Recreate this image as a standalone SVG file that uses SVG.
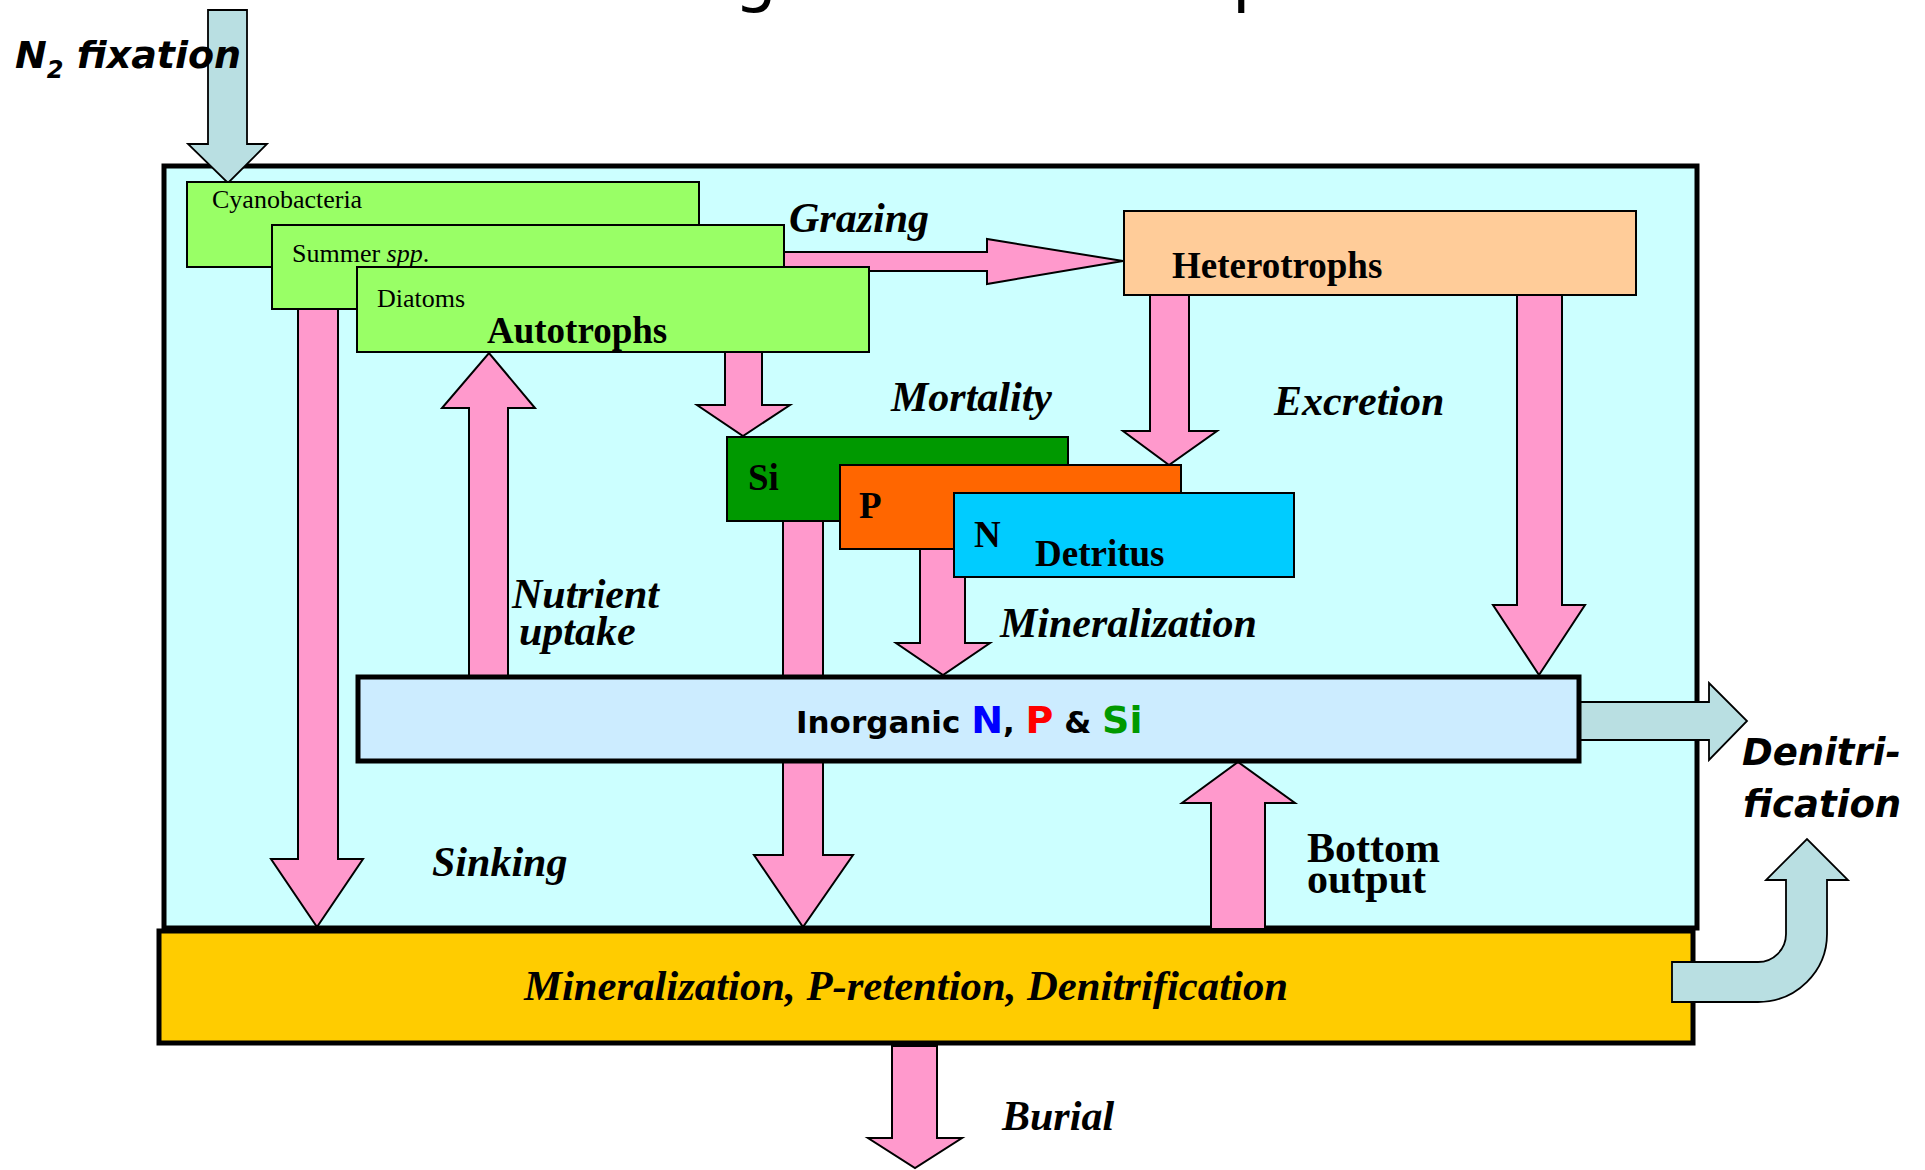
<svg xmlns="http://www.w3.org/2000/svg" width="1925" height="1170" viewBox="0 0 1925 1170">
<style>
.pink{fill:#FF99CC;stroke:#000;stroke-width:2;stroke-linejoin:miter}
.blue{fill:#B9DFE2;stroke:#000;stroke-width:1.8}
.box{stroke:#000;stroke-width:2}
.lbl{font-family:"Liberation Serif","Times New Roman",serif;font-weight:bold;font-style:italic;font-size:42px;fill:#000}
.nm{font-family:"Liberation Serif","Times New Roman",serif;font-weight:bold;font-size:37px;fill:#000}
.sm{font-family:"Liberation Serif","Times New Roman",serif;font-size:26px;fill:#000}
.cs{font-family:"DejaVu Sans","Noto Sans",sans-serif;font-weight:bold;fill:#000}
</style>
<rect width="1925" height="1170" fill="#fff"/>
<g id="title-fragment">
<text x="734" y="-1" style="font-family:'DejaVu Sans',sans-serif;font-size:68px">g</text>
<text x="1232" y="-1" style="font-family:'DejaVu Sans',sans-serif;font-size:68px">p</text>
</g>
<g id="water-column">
<rect x="164" y="166" width="1533" height="762" fill="#CCFFFF" stroke="#000" stroke-width="5"/>
</g>
<g id="sediment">
<rect x="159" y="931" width="1534" height="112" fill="#FFCC00" stroke="#000" stroke-width="5"/>
<text class="lbl" x="524" y="1000" textLength="764" lengthAdjust="spacingAndGlyphs" style="font-size:42px">Mineralization, P-retention, Denitrification</text>
</g>
<g id="connectors">
<polygon class="blue" points="208,10 247,10 247,144 267,144 228,183 188,144 208,144"/>
<polygon class="pink" points="760,252 987,252 987,239 1123,261 987,284 987,271 760,271"/>
<polygon class="pink" points="298,300 338,300 338,859 363,859 317,927 271,859 298,859"/>
<polygon class="pink" points="469,678 508,678 508,408 535,408 489,353 442,408 469,408"/>
<polygon class="pink" points="725,345 762,345 762,405 790,405 743,436 697,405 725,405"/>
<polygon class="pink" points="1150,290 1189,290 1189,431 1217,431 1169,465 1123,431 1150,431"/>
<polygon class="pink" points="1517,290 1562,290 1562,605 1585,605 1539,675 1493,605 1517,605"/>
<polygon class="pink" points="783,515 823,515 823,855 853,855 803,927 754,855 783,855"/>
<polygon class="pink" points="920,545 965,545 965,643 990,643 943,675 896,643 920,643"/>
<polygon class="pink" points="1211,929 1265,929 1265,803 1295,803 1238,762 1182,803 1211,803"/>
<polygon class="pink" points="892,1046 937,1046 937,1138 962,1138 915,1168 868,1138 892,1138"/>
<polygon class="blue" points="1575,702 1709,702 1709,683 1747,721 1709,760 1709,740 1575,740"/>
<path class="blue" d="M1672,962 H1758 A28,28 0 0 0 1786,934 V880 H1766 L1807,839 L1848,880 H1827 V934 A69,68 0 0 1 1758,1002 H1672 Z"/>
<text class="cs" x="15" y="68" style="font-style:italic;font-size:38px">N<tspan dy="10" style="font-size:24px">2</tspan><tspan dy="-10"> fixation</tspan></text>
<text class="lbl" x="789" y="232">Grazing</text>
<text class="lbl" x="891" y="411">Mortality</text>
<text class="lbl" x="1274" y="415">Excretion</text>
<text class="lbl" x="512" y="608">Nutrient</text>
<text class="lbl" x="519" y="645">uptake</text>
<text class="lbl" x="1000" y="637">Mineralization</text>
<text class="lbl" x="432" y="876">Sinking</text>
<text class="nm" x="1307" y="862" style="font-size:42px">Bottom</text>
<text class="nm" x="1307" y="893" style="font-size:42px">output</text>
<text class="lbl" x="1002" y="1130">Burial</text>
<text class="cs" x="1742" y="765" style="font-style:italic;font-size:37px">Denitri-</text>
<text class="cs" x="1743" y="817" style="font-style:italic;font-size:37px">fication</text>
</g>
<g id="cyanobacteria">
<rect class="box" x="187" y="182" width="512" height="85" fill="#99FF66"/>
<text class="sm" x="212" y="208">Cyanobacteria</text>
</g>
<g id="summer-spp">
<rect class="box" x="272" y="225" width="512" height="84" fill="#99FF66"/>
<text class="sm" x="292" y="262">Summer <tspan font-style="italic">spp</tspan>.</text>
</g>
<g id="diatoms">
<rect class="box" x="357" y="267" width="512" height="85" fill="#99FF66"/>
<text class="sm" x="377" y="307">Diatoms</text>
<text class="nm" x="487" y="343">Autotrophs</text>
</g>
<g id="heterotrophs">
<rect class="box" x="1124" y="211" width="512" height="84" fill="#FFCC99"/>
<text class="nm" x="1172" y="278">Heterotrophs</text>
</g>
<g id="detritus-si">
<rect class="box" x="727" y="437" width="341" height="84" fill="#009900"/>
<text class="nm" x="748" y="490">Si</text>
</g>
<g id="detritus-p">
<rect class="box" x="840" y="465" width="341" height="84" fill="#FF6600"/>
<text class="nm" x="859" y="518">P</text>
</g>
<g id="detritus-n">
<rect class="box" x="954" y="493" width="340" height="84" fill="#00CCFF"/>
<text class="nm" x="974" y="547">N</text>
<text class="nm" x="1035" y="566">Detritus</text>
</g>
<g id="inorganic">
<rect x="358" y="677" width="1221" height="84" fill="#CCECFF" stroke="#000" stroke-width="5"/>
<text class="cs" x="796" y="733" style="font-size:31px">Inorganic <tspan fill="#0000FF" style="font-size:38px">N</tspan>, <tspan fill="#FF0000" style="font-size:38px">P</tspan> &amp; <tspan fill="#009900" style="font-size:38px">Si</tspan></text>
</g>
</svg>
